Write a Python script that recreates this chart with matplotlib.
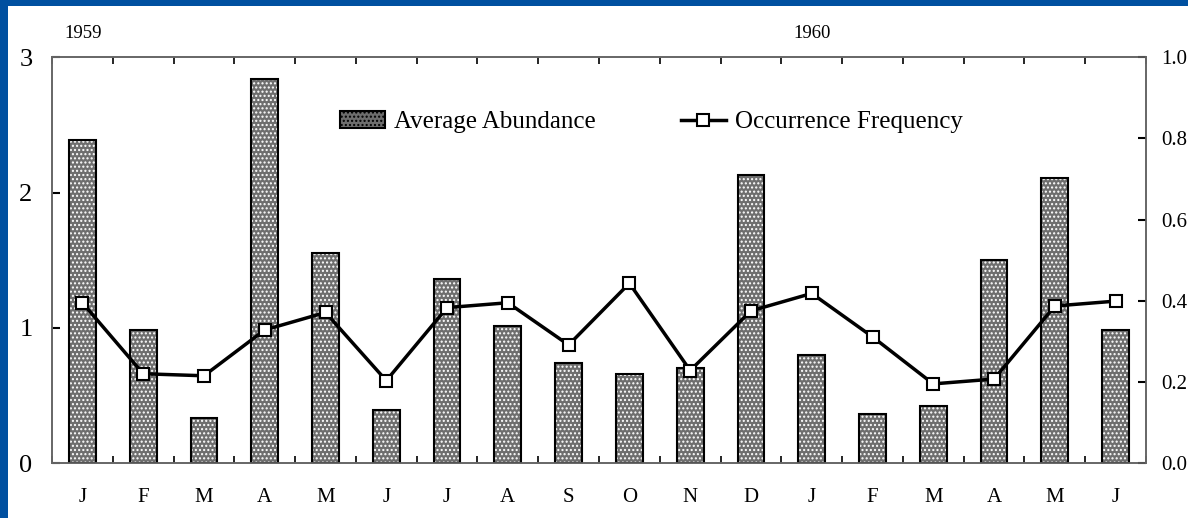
import matplotlib.pyplot as plt
from matplotlib.patches import Rectangle
from matplotlib.lines import Line2D
from matplotlib.patches import Patch
import matplotlib.transforms as mtransforms

months = ['J', 'F', 'M', 'A', 'M', 'J', 'J', 'A', 'S', 'O', 'N', 'D',
          'J', 'F', 'M', 'A', 'M', 'J']
abundance = [2.39, 0.98, 0.33, 2.84, 1.55, 0.39, 1.36, 1.01, 0.74, 0.66, 0.70, 2.13,
             0.80, 0.36, 0.42, 1.50, 2.11, 0.98]
frequency = [0.395, 0.220, 0.215, 0.328, 0.371, 0.203, 0.383, 0.395, 0.291, 0.443, 0.228, 0.375,
             0.418, 0.311, 0.195, 0.207, 0.387, 0.399]
years = ['1959', '1960']
year_start = [0, 12]

plt.rcParams['font.family'] = ['Liberation Serif', 'DejaVu Serif']

fig = plt.figure(figsize=(11.88, 5.18), dpi=100)
fig.patch.set_facecolor('#0050a0')
fig.patches.append(Rectangle((8 / 1188, 0), 1, 512 / 518, transform=fig.transFigure,
                             facecolor='white', edgecolor='none', zorder=-10))

ax = fig.add_axes([52 / 1188, 55 / 518, 1094 / 1188, 405.7 / 518])
ax.set_facecolor('none')
x = list(range(len(months)))

# dotted gray fill, then black outline on top
bar_fill = '#6e6e6e'
ax.bar(x, abundance, width=0.44, color=bar_fill, hatch='....', edgecolor='white',
       linewidth=0, zorder=2)
ax.bar(x, abundance, width=0.44, fill=False, edgecolor='black', linewidth=1.5, zorder=3)

ax.set_xlim(-0.5, len(months) - 0.5)
ax.set_ylim(0, 3)
ax.set_yticks([0, 1, 2, 3])
ax.set_yticklabels(['0', '1', '2', '3'], fontsize=19)
ax.set_xticks(x)
ax.set_xticklabels(months, fontsize=15)
ax.set_xticks([i + 0.5 for i in range(-1, len(months))], minor=True)
ax.tick_params(axis='x', which='major', length=0, pad=18)
ax.tick_params(axis='x', which='minor', direction='in', length=5, width=1.2, top=True,
               bottom=True, color='black')
ax.tick_params(axis='y', direction='in', length=6, width=1.5, pad=14, color='black')

ax2 = ax.twinx()
ax2.plot(x, frequency, color='black', linewidth=2.5, marker='s', markersize=9,
         markerfacecolor='white', markeredgecolor='black', markeredgewidth=1.5, zorder=5)
ax2.set_ylim(0, 1)
ax2.set_yticks([0, 0.2, 0.4, 0.6, 0.8, 1.0])
ax2.set_yticklabels(['0.0', '0.2', '0.4', '0.6', '0.8', '1.0'], fontsize=15)
ax2.tick_params(axis='y', direction='in', length=6, width=1.5, pad=11, color='black')

for a in (ax, ax2):
    for s in a.spines.values():
        s.set_color('#666666')
        s.set_linewidth(1.2)

trans = mtransforms.blended_transform_factory(ax.transData, fig.transFigure)
for yr, xs in zip(years, year_start):
    ax.text(xs - 0.3, (518 - 34) / 518, yr, transform=trans, fontsize=13.5,
            ha='left', va='center')

handles = [Patch(facecolor=bar_fill, hatch='....', edgecolor='black', linewidth=1.5),
           Line2D([], [], color='black', linewidth=2.5, marker='s', markersize=9,
                  markerfacecolor='white', markeredgecolor='black', markeredgewidth=1.5)]
ax2.legend(handles, ['Average Abundance', 'Occurrence Frequency'], ncol=2, frameon=False,
           fontsize=18, loc='center', bbox_to_anchor=(0.548, 0.84), handlelength=1.8,
           handletextpad=0.35, columnspacing=3.4)

fig.savefig('out.png', dpi=100, facecolor=fig.get_facecolor())
